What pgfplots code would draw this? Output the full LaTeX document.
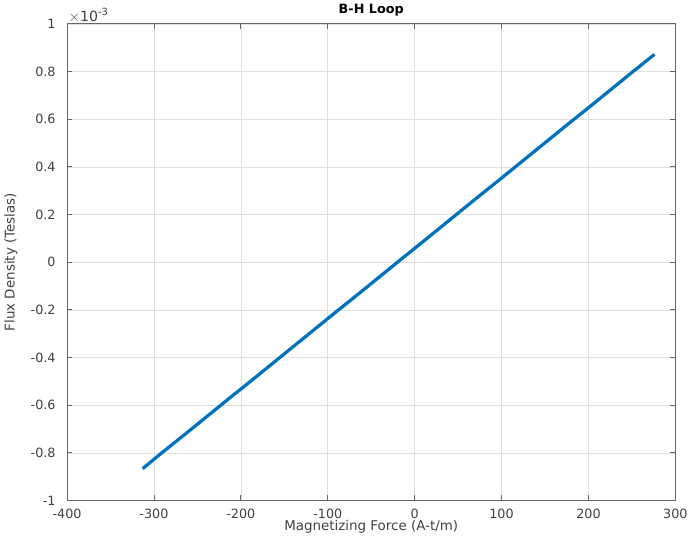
\documentclass[border=0pt]{standalone}
\usepackage{fontspec}
\setmainfont{DejaVu Sans}
\usepackage{pgfplots}
\pgfplotsset{compat=1.18}
\definecolor{mblue}{rgb}{0,0.447,0.741}
\definecolor{axgray}{rgb}{0.4,0.4,0.4}

\begin{document}
\begin{tikzpicture}
\begin{axis}[
    width=453pt, height=355pt,
    scale only axis,
    clip=false,
    xmin=-400, xmax=300,
    ymin=-1, ymax=1,
    xtick={-400,-300,...,300},
    ytick={-1,-0.8,...,1},
    yticklabels={-1,-0.8,-0.6,-0.4,-0.2,0,0.2,0.4,0.6,0.8,1},
    grid=major,
    major grid style={gray!25, line width=0.5pt},
    axis line style={axgray, line width=0.7pt},
    tick style={axgray, line width=0.6pt},
    tick align=inside,
    major tick length=4pt,
    ticklabel style={font=\fontsize{9.5}{11}\selectfont, text=black!75},
    xticklabel style={yshift=-3pt},
    yticklabel style={xshift=-5pt},
    /pgf/number format/assume math mode=true,
    title={\bfseries B-H Loop},
    title style={font=\fontsize{9.5}{11}\selectfont, yshift=-4pt},
    xlabel={Magnetizing Force (A-t/m)},
    ylabel={Flux Density (Teslas)},
    label style={font=\fontsize{10}{12}\selectfont, text=black!75},
    xlabel style={yshift=6pt},
    ylabel style={yshift=3pt},
]
% B in units of 1e-3 T
\addplot[mblue, line width=2.4pt] coordinates {
(-313,-0.866) (-290,-0.797) (-265,-0.724) (-240,-0.650) (-215,-0.576)
(-190,-0.503) (-165,-0.429) (-140,-0.355) (-115,-0.281) (-90,-0.207)
(-65,-0.134) (-40,-0.060) (-15,0.014) (0,0.058) (25,0.132)
(50,0.206) (75,0.280) (100,0.353) (125,0.427) (150,0.501)
(175,0.575) (200,0.648) (225,0.722) (250,0.796) (276,0.872)
};
\node[anchor=south west, font=\fontsize{10.5}{12}\selectfont, text=black!75, inner sep=1pt]
  at (rel axis cs:0,1) {$\times$10\textsuperscript{-3}};
\end{axis}
\end{tikzpicture}
\end{document}
